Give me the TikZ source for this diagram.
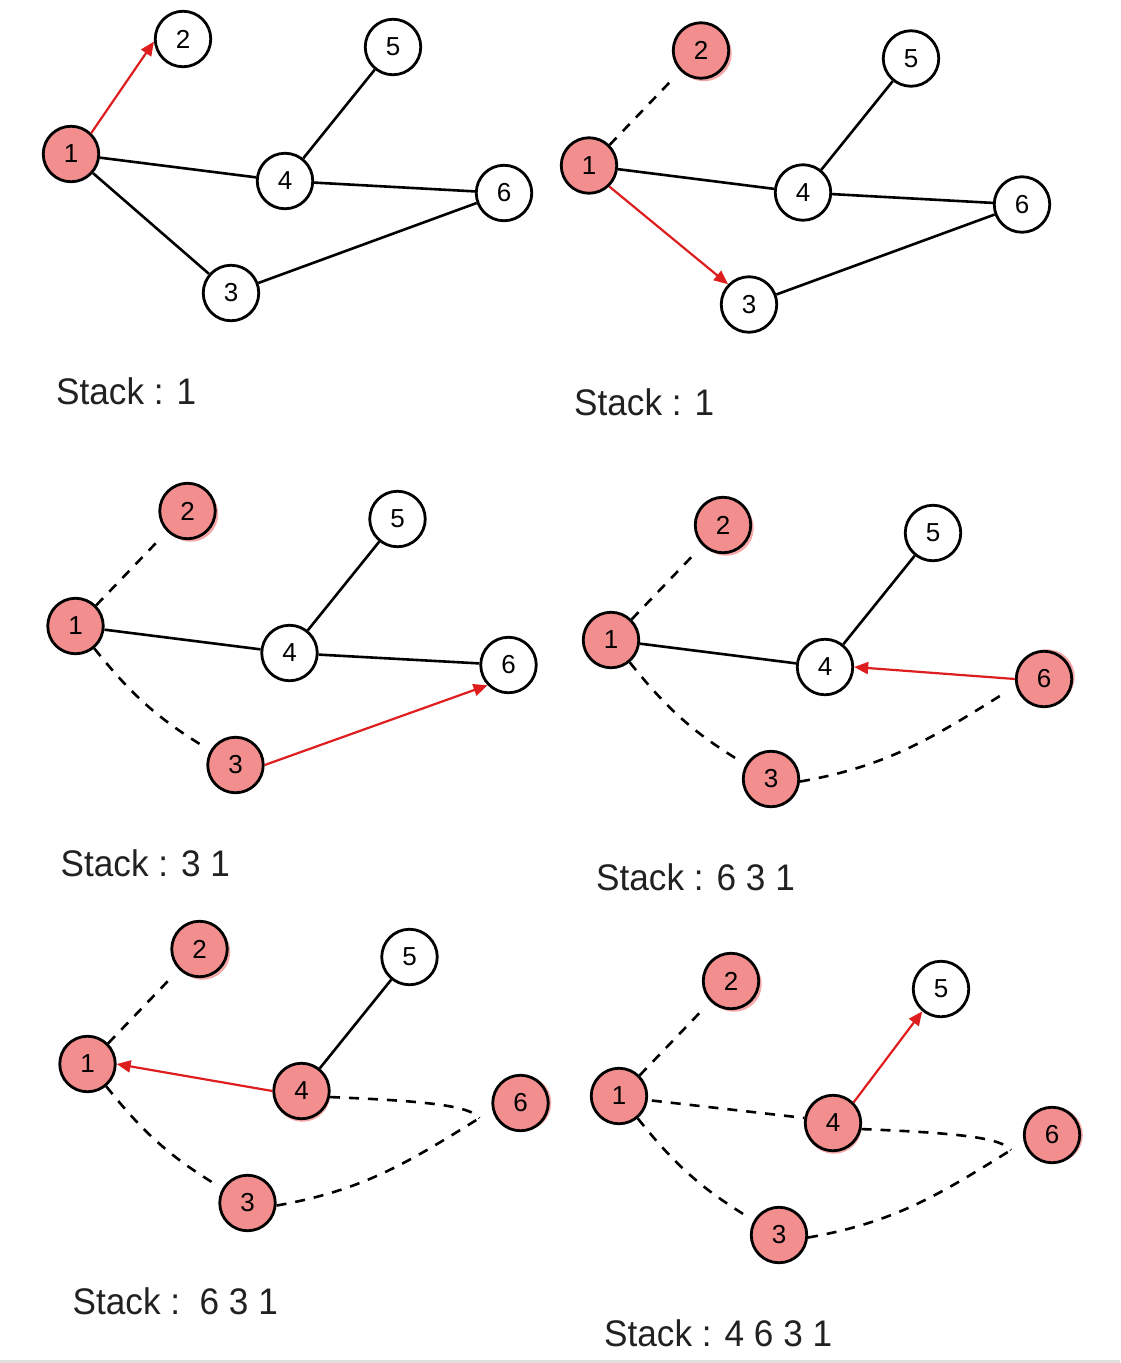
\documentclass[tikz,border=0pt]{standalone}
\usepackage{fontspec}
\setmainfont{Liberation Sans}
\newfontfamily\stackfont[FakeStretch=0.95]{Liberation Sans}
\usetikzlibrary{arrows.meta,calc}

\definecolor{visitfill}{RGB}{242,142,142}
\definecolor{visithalo}{RGB}{245,168,168}
\definecolor{treeedge}{RGB}{222,30,30}
\definecolor{labelgray}{RGB}{33,33,33}

\tikzset{
  vertex/.style={circle, draw=black, line width=2.8pt, minimum size=55.5pt,
    inner sep=0pt, fill=white, font=\fontsize{26}{26}\selectfont},
  fresh/.style={vertex},
  visited/.style={vertex, fill=visitfill},
  halo/.style 2 args={visited,
    preaction={fill=visithalo, transform canvas={shift={(#1pt,#2pt)}}}},
  edge/.style={line width=2.6pt, black},
  backedge/.style={edge, dash pattern=on 10pt off 9pt},
  probe/.style={line width=2.2pt, treeedge, -{Triangle[length=14pt,width=12pt]}},
  stacklabel/.style={anchor=base west, text=labelgray, inner sep=0pt,
    font=\stackfont\fontsize{37}{37}\selectfont},
}

% the six vertices of one snapshot; #1 = prefix, #2..#7 = styles of vertices 1..6
\newcommand\graphnodes[7]{%
  \node[#2] (#1-1) at (71,-154) {1};
  \node[#3] (#1-2) at (183,-39) {2};
  \node[#4] (#1-3) at (231,-293) {3};
  \node[#5] (#1-4) at (285,-181) {4};
  \node[#6] (#1-5) at (393,-47) {5};
  \node[#7] (#1-6) at (504,-193) {6};
  \coordinate (#1-x) at ($(#1-6)+(-41,-15)$);
}

\begin{document}
\begin{tikzpicture}[x=1pt,y=1pt]
  \useasboundingbox (0,0) rectangle (1120,-1363);
  \fill[white] (0,0) rectangle (1120,-1363);
  \fill[black!12] (0,-1360) rectangle (1120,-1363);

  % step 1
  \begin{scope}
    \graphnodes{p1}{visited}{fresh}{fresh}{fresh}{fresh}{fresh}
    \draw[probe] (p1-1.46) -- (p1-2.185);
    \draw[edge] (p1-1) -- (p1-4);
    \draw[edge] (p1-1) -- (p1-3);
    \draw[edge] (p1-4) -- (p1-5);
    \draw[edge] (p1-4) -- (p1-6);
    \draw[edge] (p1-3) -- (p1-6);
    \node[stacklabel] (p1-s) at (56,-404) {Stack : 1};
  \end{scope}

  % step 2
  \begin{scope}[shift={(518,-11.5)}]
    \graphnodes{p2}{visited}{halo={3}{-3}}{fresh}{fresh}{fresh}{fresh}
    \draw[backedge, shorten >=11pt] (p2-1.45) -- (p2-2.225);
    \draw[probe] (p2-1.-46) -- (p2-3.136);
    \draw[edge] (p2-1) -- (p2-4);
    \draw[edge] (p2-4) -- (p2-5);
    \draw[edge] (p2-4) -- (p2-6);
    \draw[edge] (p2-3) -- (p2-6);
    \node[stacklabel] (p2-s) at (56,-404) {Stack : 1};
  \end{scope}

  % step 3
  \begin{scope}[shift={(4.5,-472)}]
    \graphnodes{p3}{visited}{halo={3}{-3}}{visited}{fresh}{fresh}{fresh}
    \draw[backedge, shorten >=11pt] (p3-1.45) -- (p3-2.225);
    \draw[backedge, shorten >=5pt] (p3-1.-50) to[bend right=10] (p3-3.150);
    \draw[probe] (p3-3.east) -- (p3-6.224);
    \draw[edge] (p3-1) -- (p3-4);
    \draw[edge] (p3-4) -- (p3-5);
    \draw[edge] (p3-4) -- (p3-6);
    \node[stacklabel] (p3-s) at (56,-404) {Stack : 3 1};
  \end{scope}

  % step 4
  \begin{scope}[shift={(540,-486)}]
    \graphnodes{p4}{visited}{halo={3}{-3}}{visited}{fresh}{fresh}{halo={3}{2}}
    \draw[backedge, shorten >=11pt] (p4-1.45) -- (p4-2.225);
    \draw[backedge, shorten >=5pt] (p4-1.-50) to[bend right=10] (p4-3.150);
    \draw[backedge] (p4-3.-5) to[out=10,in=212] (p4-x);
    \draw[probe] (p4-6.west) -- (p4-4.east);
    \draw[edge] (p4-1) -- (p4-4);
    \draw[edge] (p4-4) -- (p4-5);
    \node[stacklabel] (p4-s) at (56,-404) {Stack : 6 3 1};
  \end{scope}

  % step 5
  \begin{scope}[shift={(16.5,-910)}]
    \graphnodes{p5}{visited}{halo={3}{-3}}{visited}{halo={1}{-3}}{fresh}{halo={3}{0}}
    \draw[backedge, shorten >=11pt] (p5-1.45) -- (p5-2.225);
    \draw[backedge, shorten >=5pt] (p5-1.-50) to[bend right=10] (p5-3.150);
    \draw[backedge] (p5-3.-5) to[out=10,in=212] (p5-x);
    \draw[backedge] (p5-4.-12) .. controls +(100,-4) and +(-10,12) .. (p5-x);
    \draw[probe] (p5-4.west) -- (p5-1.east);
    \draw[edge] (p5-4) -- (p5-5);
    \node[stacklabel] (p5-s) at (56,-404) {Stack :~~6 3 1};
  \end{scope}

  % step 6
  \begin{scope}[shift={(548,-942)}]
    \graphnodes{p6}{visited}{halo={3}{-3}}{visited}{halo={1}{-3}}{fresh}{halo={3}{0}}
    \draw[backedge, shorten >=11pt] (p6-1.45) -- (p6-2.225);
    \draw[backedge, shorten >=5pt] (p6-1.-50) to[bend right=10] (p6-3.150);
    \draw[backedge] (p6-3.-5) to[out=10,in=212] (p6-x);
    \draw[backedge] (p6-4.-12) .. controls +(100,-4) and +(-10,12) .. (p6-x);
    \draw[backedge, shorten <=4pt] (p6-1.-8) -- (p6-4.170);
    \draw[probe] (p6-4.45) -- (p6-5.230);
    \node[stacklabel] (p6-s) at (56,-404) {Stack : 4 6 3 1};
  \end{scope}
\end{tikzpicture}
\end{document}
